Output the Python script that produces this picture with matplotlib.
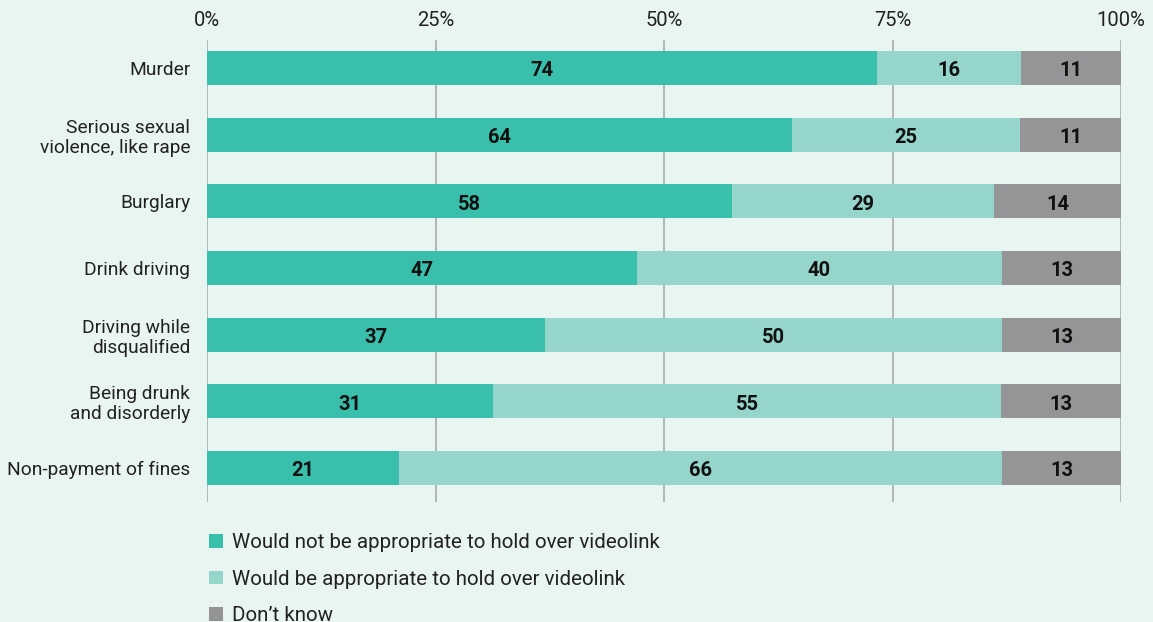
import numpy as np
import matplotlib
matplotlib.use("Agg")
import matplotlib.pyplot as plt
from matplotlib.patches import Patch

plt.rcParams['font.family'] = ['Roboto', 'DejaVu Sans']

categories = ['Murder', 'Serious sexual\nviolence, like rape', 'Burglary',
              'Drink driving', 'Driving while\ndisqualified',
              'Being drunk\nand disorderly', 'Non-payment of fines']
not_appropriate = [74, 64, 58, 47, 37, 31, 21]
appropriate = [16, 25, 29, 40, 50, 55, 66]
dont_know = [11, 11, 14, 13, 13, 13, 13]
series_names = ['Would not be appropriate to hold over videolink',
                'Would be appropriate to hold over videolink',
                "Don\u2019t know"]
colors = ['#3bbfad', '#96d5cb', '#959598']
bg = '#e9f5f1'

data = np.array([not_appropriate, appropriate, dont_know], dtype=float)
totals = data.sum(axis=0)
shares = data / totals * 100

fig = plt.figure(figsize=(11.53, 6.22), dpi=100, facecolor=bg)
ax = fig.add_axes([207/1153, 1 - 502/622, (1121-207)/1153, 462/622])
ax.set_facecolor(bg)

y = np.arange(len(categories))
left = np.zeros(len(categories))
for i in range(3):
    ax.barh(y, shares[i], left=left, height=0.51, color=colors[i], zorder=2)
    for j in range(len(categories)):
        ax.text(left[j] + shares[i][j] / 2, y[j] + 0.04, f'{int(data[i][j])}',
                ha='center', va='center', fontsize=14.5, fontweight='bold',
                color='#111111', zorder=3)
    left += shares[i]

ax.set_xlim(0, 100)
ax.set_ylim(6.51, -0.42)
ax.set_xticks([0, 25, 50, 75, 100])
ax.set_xticklabels(['0%', '25%', '50%', '75%', '100%'])
ax.xaxis.tick_top()
ax.tick_params(axis='x', length=0, pad=7, labelsize=14.5, colors='#222222')
ax.grid(axis='x', color='#a8acaa', linewidth=1.2, zorder=1)
ax.set_yticks(y)
ax.set_yticklabels(categories, fontsize=13.8, color='#222222', linespacing=1.15)
ax.tick_params(axis='y', length=0, pad=12)
for s in ax.spines.values():
    s.set_visible(False)

handles = [Patch(facecolor=c, edgecolor='none') for c in colors]
fig.legend(handles, series_names, loc='upper left',
           bbox_to_anchor=(199/1153, 1 - 523/622), frameon=False,
           fontsize=14.8, handlelength=0.65, handleheight=0.65,
           handletextpad=0.45, labelspacing=0.85, borderpad=0,
           labelcolor='#222222')

fig.savefig('out.png', dpi=100, facecolor=bg)
